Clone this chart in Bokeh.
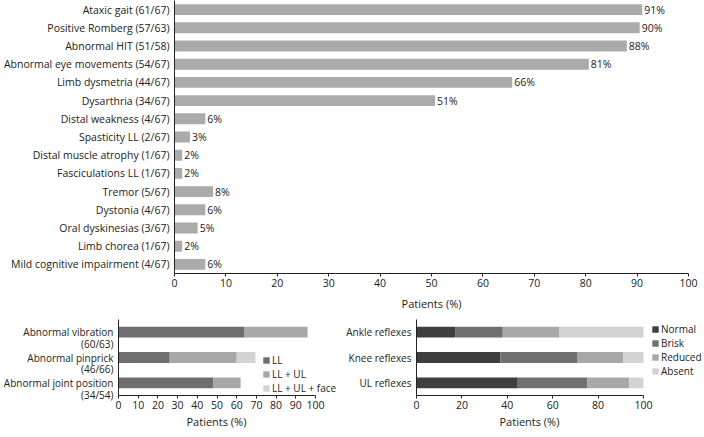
from bokeh.plotting import figure
from bokeh.models import (ColumnDataSource, Legend, LegendItem, FactorRange,
                          FixedTicker, Range1d, Title)
from bokeh.layouts import column, row
from bokeh.core.properties import value
from bokeh.embed import file_html
from bokeh.resources import INLINE

# ---------------- data ----------------
symptoms = [
    "Ataxic gait (61/67)", "Positive Romberg (57/63)", "Abnormal HIT (51/58)",
    "Abnormal eye movements (54/67)", "Limb dysmetria (44/67)", "Dysarthria (34/67)",
    "Distal weakness (4/67)", "Spasticity LL (2/67)", "Distal muscle atrophy (1/67)",
    "Fasciculations LL (1/67)", "Tremor (5/67)", "Dystonia (4/67)",
    "Oral dyskinesias (3/67)", "Limb chorea (1/67)", "Mild cognitive impairment (4/67)",
]
symptom_pct = [91, 90.5, 88, 80.6, 65.7, 50.7, 6, 3, 1.5, 1.5, 7.5, 6, 4.5, 1.5, 6]
symptom_labels = ["91%", "90%", "88%", "81%", "66%", "51%", "6%", "3%", "2%", "2%",
                  "8%", "6%", "5%", "2%", "6%"]
top_ticks = [0, 10, 20, 30, 40, 50, 60, 70, 80, 90, 100]

sensory = ["Abnormal vibration\n(60/63)", "Abnormal pinprick\n(46/66)",
           "Abnormal joint position\n(34/54)"]
sens_series = ["LL", "LL + UL", "LL + UL + face"]
sens_ll = [64, 26, 48]
sens_llul = [32, 34, 14]
sens_face = [0, 9.5, 0]
sens_ticks = [0, 10, 20, 30, 40, 50, 60, 70, 80, 90, 100]

reflexes = ["Ankle reflexes", "Knee reflexes", "UL reflexes"]
refl_series = ["Normal", "Brisk", "Reduced", "Absent"]
refl_normal = [17, 37, 44.6]
refl_brisk = [21, 34, 30.7]
refl_reduced = [25, 20, 18.4]
refl_absent = [37, 9, 6.3]
refl_ticks = [0, 20, 40, 60, 80, 100]

FONT = "Open Sans"
TXT = "#222222"
FS = "10.5px"


def style(p, xticks, ylab_fs=FS):
    p.xgrid.grid_line_color = None
    p.ygrid.grid_line_color = None
    p.outline_line_color = None
    p.xaxis.ticker = FixedTicker(ticks=xticks)
    for ax in (p.xaxis[0], p.yaxis[0]):
        ax.axis_line_color = TXT
        ax.axis_line_width = 1
        ax.minor_tick_line_color = None
        ax.major_label_text_font = FONT
        ax.major_label_text_font_size = FS
        ax.major_label_text_color = TXT
        ax.axis_label_text_font = FONT
        ax.axis_label_text_font_size = "11px"
        ax.axis_label_text_font_style = "normal"
        ax.axis_label_text_color = TXT
    p.yaxis.major_label_text_font_size = ylab_fs
    p.xaxis.major_tick_in = 0
    p.xaxis.major_tick_out = 3
    p.xaxis.major_tick_line_color = TXT
    p.xaxis.major_label_standoff = 2
    p.xaxis.axis_label_standoff = 6
    p.yaxis.major_tick_line_color = None
    p.yaxis.major_tick_out = 0
    p.yaxis.major_tick_in = 0
    p.yaxis.major_label_standoff = 5


def x_title(p, offset):
    p.add_layout(Title(text="Patients (%)", align="left", offset=offset,
                       text_font=FONT, text_font_size="11px", text_font_style="normal",
                       text_color=TXT, standoff=0), "below")


def legend(items, loc):
    return Legend(items=items, location=loc, padding=0, margin=0, spacing=0,
                  glyph_width=8, glyph_height=8, label_height=10, label_standoff=2,
                  label_text_font=FONT, label_text_font_size="10px", label_text_color=TXT,
                  background_fill_alpha=0, border_line_color=None)


# ---------------- top chart ----------------
top = figure(
    y_range=FactorRange(factors=list(reversed(symptoms)), range_padding=0),
    x_range=Range1d(0, 100),
    frame_width=514, frame_height=273,
    min_border_left=160, min_border_right=12, min_border_top=0, min_border_bottom=36,
    output_backend="svg", toolbar_location=None,
)
src = ColumnDataSource(dict(sym=symptoms, pct=symptom_pct, lab=symptom_labels))
top.hbar(y="sym", left=0, right="pct", height=0.6, source=src,
         fill_color="#ababab", line_color=None)
top.text(x="pct", y="sym", text="lab", source=src, x_offset=2,
         text_baseline="middle", text_align="left",
         text_font=value(FONT), text_font_size=FS, text_color=TXT)
style(top, top_ticks)
top.xaxis.axis_label = "Patients (%)"

# ---------------- bottom-left chart ----------------
n_s = len(sensory)
sens_y = [n_s - 1 - i for i in range(n_s)]          # first category on top
LINE_SHIFT = 0.237                                    # half a label line, in bar units
L_PX_PER_100 = 197                                    # frame pixels for 0..100
L_FRAME_W = 225
left = figure(
    y_range=Range1d(-0.5, n_s - 0.5),
    x_range=Range1d(0, 100 * L_FRAME_W / L_PX_PER_100),
    frame_width=L_FRAME_W, frame_height=76,
    min_border_left=110, min_border_right=0, min_border_top=6, min_border_bottom=10,
    output_backend="svg", toolbar_location=None,
)
ssrc = ColumnDataSource({"y": sens_y, "LL": sens_ll, "LL + UL": sens_llul,
                         "LL + UL + face": sens_face})
rl = left.hbar_stack(sens_series, y="y", height=0.43, source=ssrc,
                     fill_color=["#6e6e6e", "#a8a8a8", "#d3d3d3"], line_color=None)
style(left, sens_ticks, ylab_fs="10px")
left.xaxis.axis_label_standoff = 3
left.xaxis.bounds = (0, 100)
tick_pos = [y - LINE_SHIFT for y in sens_y]
left.yaxis.ticker = FixedTicker(ticks=tick_pos)
left.yaxis.major_label_overrides = {t: s for t, s in zip(tick_pos, sensory)}
left.yaxis.major_label_text_line_height = 0.85
x_title(left, 68)
left.add_layout(legend([LegendItem(label=s, renderers=[r]) for s, r in zip(sens_series, rl)],
                       (144, 0)), "center")

# ---------------- bottom-right chart ----------------
R_PX_PER_100 = 227
R_FRAME_W = 286
right = figure(
    y_range=FactorRange(factors=list(reversed(reflexes)), range_padding=0),
    x_range=Range1d(0, 100 * R_FRAME_W / R_PX_PER_100),
    frame_width=R_FRAME_W, frame_height=76,
    min_border_left=73, min_border_right=0, min_border_top=6, min_border_bottom=10,
    output_backend="svg", toolbar_location=None,
)
rsrc = ColumnDataSource({"cat": reflexes, "Normal": refl_normal, "Brisk": refl_brisk,
                         "Reduced": refl_reduced, "Absent": refl_absent})
rr = right.hbar_stack(refl_series, y="cat", height=0.43, source=rsrc,
                      fill_color=["#3e3e3e", "#707070", "#a8a8a8", "#d3d3d3"],
                      line_color=None)
style(right, refl_ticks, ylab_fs="10px")
right.xaxis.axis_label_standoff = 3
right.xaxis.bounds = (0, 100)
x_title(right, 83)
right.add_layout(legend([LegendItem(label=s, renderers=[r]) for s, r in zip(refl_series, rr)],
                        (235, 17)), "center")

layout = column(top, row(left, right))
open("out.html", "w").write(file_html(layout, INLINE))
